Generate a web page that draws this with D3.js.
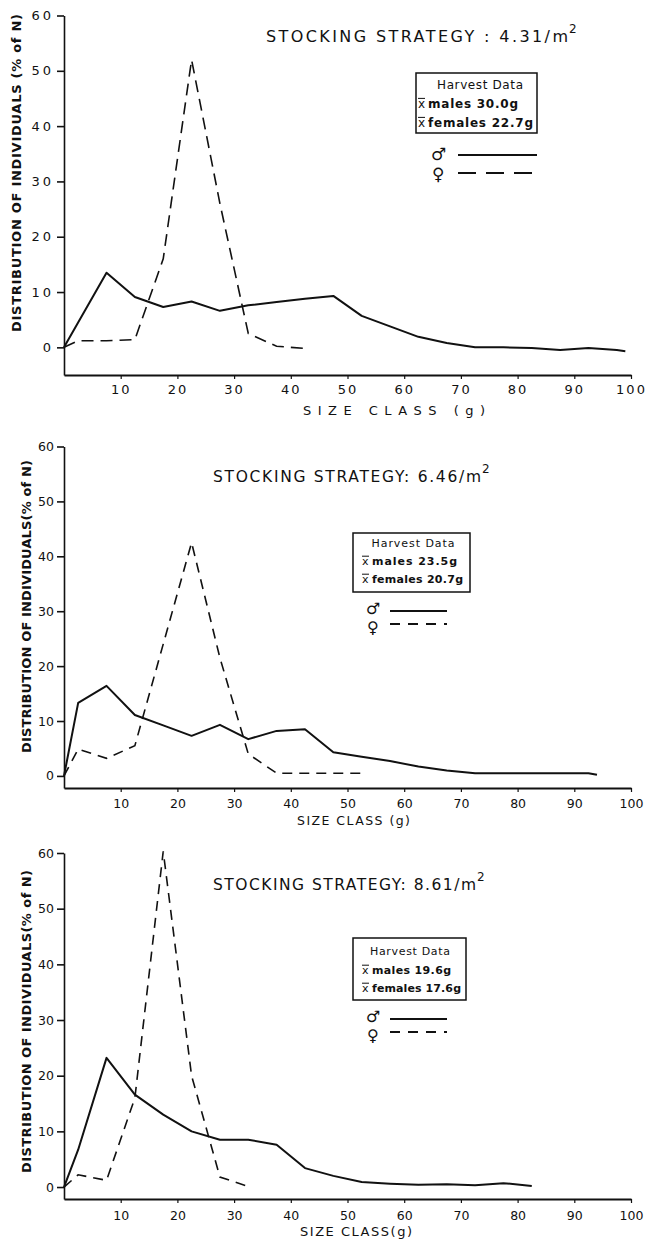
<!DOCTYPE html>
<html>
<head>
<meta charset="utf-8">
<script src="https://cdn.jsdelivr.net/npm/d3@7"></script>
<style>
  body { margin: 0; background: #fff; }
  svg { display: block; }
  text { font-family: "DejaVu Sans", sans-serif; fill: #111; }
</style>
</head>
<body>
<svg id="chart" width="647" height="1240"></svg>
<script>
// ---------------- DATA ----------------
const xTickValues = [10, 20, 30, 40, 50, 60, 70, 80, 90, 100];
const yTickValues = [0, 10, 20, 30, 40, 50, 60];
const stockingDensities = ["4.31", "6.46", "8.61"];
const harvestMaleMeans = ["30.0g", "23.5g", "19.6g"];
const harvestFemaleMeans = ["22.7g", "20.7g", "17.6g"];

// Panel 1 : 4.31 / m2
const p1MaleSize = [0, 7.5, 12.5, 17.5, 22.5, 27.5, 32.5, 37.5, 42.5, 47.5, 52.5, 57.5, 62.5, 67.5, 72.5, 77.5, 82.5, 87.5, 92.5, 97.5, 99];
const p1MalePct  = [0, 13.5, 9.1, 7.3, 8.3, 6.6, 7.6, 8.2, 8.8, 9.3, 5.7, 3.8, 1.9, 0.8, 0.0, 0.0, -0.1, -0.5, -0.1, -0.5, -0.7];
const p1FemaleSize = [0, 2.5, 7.5, 12.5, 17.5, 22.5, 27.5, 32.5, 37.5, 42.5];
const p1FemalePct  = [0, 1.2, 1.2, 1.4, 16, 52, 26, 2.5, 0.2, -0.2];

// Panel 2 : 6.46 / m2
const p2MaleSize = [0, 2.5, 7.5, 12.5, 17.5, 22.5, 27.5, 32.5, 37.5, 42.5, 47.5, 52.5, 57.5, 62.5, 67.5, 72.5, 77.5, 82.5, 87.5, 92.5, 94];
const p2MalePct  = [0, 13.3, 16.4, 11.1, 9.2, 7.3, 9.3, 6.7, 8.2, 8.5, 4.3, 3.5, 2.7, 1.7, 1.0, 0.5, 0.5, 0.5, 0.5, 0.5, 0.2];
const p2FemaleSize = [0, 2.5, 7.5, 12.5, 17.5, 22.5, 27.5, 32.5, 37.5, 42.5, 47.5, 52.5];
const p2FemalePct  = [0, 4.9, 3.2, 5.5, 24, 42.5, 21.5, 4, 0.5, 0.5, 0.5, 0.5];

// Panel 3 : 8.61 / m2
const p3MaleSize = [0, 2.5, 7.5, 12.5, 17.5, 22.5, 27.5, 32.5, 37.5, 42.5, 47.5, 52.5, 57.5, 62.5, 67.5, 72.5, 77.5, 82.5];
const p3MalePct  = [0, 6.7, 23.2, 16.6, 13.0, 10.0, 8.5, 8.5, 7.6, 3.4, 2.0, 0.9, 0.6, 0.4, 0.5, 0.3, 0.7, 0.2];
const p3FemaleSize = [0, 2.5, 7.5, 12.5, 17.5, 22.5, 27.5, 32.5];
const p3FemalePct  = [0, 2.2, 1.2, 16, 60.3, 20, 1.8, 0.1];

// ---------------- LAYOUT ----------------
const panels = [
  { male: [p1MaleSize, p1MalePct], female: [p1FemaleSize, p1FemalePct], yMin: -5, yRange: [375, 15.5],
    tickBase: 19, tickFont: 13, tickSpacing: 2, yTickSpacing: 3,
    xLabel: "SIZE CLASS (g)", xLabelX: 303, xLabelY: 415, xLabelLen: 182, xLabelFont: 13,
    yLabelX: 21, yLabelC: 173, yLabelLen: 318,
    titleX: 266, titleY: 42, titleLen: 302, titleFont: 16, title: "STOCKING STRATEGY : ",
    box: { x: 416, y: 73, w: 121, h: 60 }, hdC: 480, hdY: 89, hdLen: 86, mY: 108, fY: 127, txtX: 418, mLen: 90, fLen: 105, boxFont: 12,
    symX: 431, lineX: [458, 537], femLineX: [458, 532], mLineY: 155, fLineY: 173, mSymDy: 5, fSymDy: 7,
    dash: "12,7", legDash: "18,10", symFont: 17 },
  { male: [p2MaleSize, p2MalePct], female: [p2FemaleSize, p2FemalePct], yMin: -2.2, yRange: [788, 446.5],
    tickBase: 20, tickFont: 12.5, tickSpacing: 0, yTickSpacing: 0,
    xLabel: "SIZE CLASS (g)", xLabelX: 297, xLabelY: 825, xLabelLen: 113, xLabelFont: 12.5,
    yLabelX: 31, yLabelC: 606.5, yLabelLen: 293,
    titleX: 213, titleY: 482, titleLen: 268, titleFont: 15.5, title: "STOCKING STRATEGY: ",
    box: { x: 353, y: 533, w: 117, h: 59 }, hdC: 413, hdY: 547, hdLen: 83, mY: 565, fY: 583, txtX: 362, mLen: 85, fLen: 91, boxFont: 11,
    symX: 366, lineX: [390, 447], femLineX: [390, 447], mLineY: 611, fLineY: 624, mSymDy: 3, fSymDy: 9,
    dash: "10,7", legDash: "10,8", symFont: 16 },
  { male: [p3MaleSize, p3MalePct], female: [p3FemaleSize, p3FemalePct], yMin: -2.15, yRange: [1199, 853],
    tickBase: 21, tickFont: 12.5, tickSpacing: 0, yTickSpacing: 0,
    xLabel: "SIZE CLASS(g)", xLabelX: 300, xLabelY: 1236, xLabelLen: 112, xLabelFont: 13,
    yLabelX: 31, yLabelC: 1021.5, yLabelLen: 303,
    titleX: 213, titleY: 890, titleLen: 263, titleFont: 15.5, title: "STOCKING STRATEGY: ",
    box: { x: 353, y: 938, w: 113, h: 62 }, hdC: 410, hdY: 955, hdLen: 80, mY: 974, fY: 992, txtX: 362, mLen: 79, fLen: 89, boxFont: 11,
    symX: 366, lineX: [390, 447], femLineX: [390, 447], mLineY: 1019, fLineY: 1032, mSymDy: 3, fSymDy: 9,
    dash: "10,7", legDash: "10,8", symFont: 16 }
];

const svg = d3.select("#chart");

panels.forEach((p, i) => {
  const g = svg.append("g");
  const x = d3.scaleLinear().domain([0, 100]).range([64, 631]);
  const y = d3.scaleLinear().domain([p.yMin, 60]).range(p.yRange);

  // y axis
  const ya = g.append("g").attr("transform", `translate(${x(0)},0)`)
    .call(d3.axisLeft(y).tickValues(yTickValues).tickSize(7).tickSizeOuter(0).tickPadding(3));
  ya.attr("font-family", null).attr("font-size", null);
  ya.select(".domain").attr("stroke", "#111").attr("stroke-width", 1.6);
  ya.selectAll(".tick line").attr("stroke", "#111").attr("stroke-width", 1.6);
  ya.selectAll(".tick text").attr("font-size", p.tickFont).attr("letter-spacing", p.yTickSpacing)
    .attr("fill", "#111");

  // x axis
  const xa = g.append("g").attr("transform", `translate(0,${y(p.yMin)})`)
    .call(d3.axisBottom(x).tickValues(xTickValues).tickSize(4).tickSizeOuter(0));
  xa.attr("font-family", null).attr("font-size", null);
  xa.select(".domain").attr("stroke", "#111").attr("stroke-width", 1.8);
  xa.selectAll(".tick line").attr("stroke", "#111").attr("stroke-width", 1.2);
  xa.selectAll(".tick text").attr("font-size", p.tickFont).attr("letter-spacing", p.tickSpacing)
    .attr("fill", "#111").attr("dy", null).attr("y", p.tickBase);

  // lines
  const line = d3.line().x(d => x(d[0])).y(d => y(d[1]));
  const maleData = p.male[0].map((s, k) => [s, p.male[1][k]]);
  const femaleData = p.female[0].map((s, k) => [s, p.female[1][k]]);
  g.append("path").datum(femaleData).attr("d", line).attr("fill", "none")
    .attr("stroke", "#111").attr("stroke-width", 1.6).attr("stroke-dasharray", p.dash);
  g.append("path").datum(maleData).attr("d", line).attr("fill", "none")
    .attr("stroke", "#111").attr("stroke-width", 2).attr("stroke-linejoin", "round");

  // axis titles
  g.append("text").attr("x", p.xLabelX).attr("y", p.xLabelY).attr("font-size", p.xLabelFont)
    .attr("textLength", p.xLabelLen).attr("lengthAdjust", "spacing").text(p.xLabel);
  g.append("text").attr("transform", `translate(${p.yLabelX},${p.yLabelC}) rotate(-90)`)
    .attr("text-anchor", "middle").attr("font-size", 13).attr("font-weight", "bold")
    .attr("textLength", p.yLabelLen).attr("lengthAdjust", "spacing")
    .text(i === 0 ? "DISTRIBUTION OF INDIVIDUALS (% of N)" : "DISTRIBUTION OF INDIVIDUALS(% of N)");

  // chart title
  g.append("text").attr("x", p.titleX).attr("y", p.titleY).attr("font-size", p.titleFont)
    .attr("textLength", p.titleLen).attr("lengthAdjust", "spacing")
    .text(p.title + stockingDensities[i] + "/m");
  g.append("text").attr("x", p.titleX + p.titleLen + 1).attr("y", p.titleY - 9).attr("font-size", 12)
    .text("2");

  // harvest data box
  const b = p.box;
  g.append("rect").attr("x", b.x).attr("y", b.y).attr("width", b.w).attr("height", b.h)
    .attr("fill", "none").attr("stroke", "#111").attr("stroke-width", 1.5);
  g.append("text").attr("x", p.hdC).attr("y", p.hdY).attr("text-anchor", "middle")
    .attr("font-size", p.boxFont).attr("textLength", p.hdLen).attr("lengthAdjust", "spacing")
    .text("Harvest Data");
  [[p.mY, "males ", harvestMaleMeans[i], p.mLen], [p.fY, "females ", harvestFemaleMeans[i], p.fLen]].forEach(r => {
    g.append("text").attr("x", p.txtX).attr("y", r[0]).attr("font-size", p.boxFont).text("x");
    g.append("line").attr("x1", p.txtX).attr("x2", p.txtX + 7)
      .attr("y1", r[0] - p.boxFont * 0.8).attr("y2", r[0] - p.boxFont * 0.8)
      .attr("stroke", "#111").attr("stroke-width", 1);
    g.append("text").attr("x", p.txtX + 10).attr("y", r[0]).attr("font-size", p.boxFont)
      .attr("font-weight", "bold").attr("textLength", r[3]).attr("lengthAdjust", "spacing")
      .text(r[1] + r[2]);
  });

  // sex legend
  g.append("text").attr("font-size", p.symFont).attr("x", p.symX).attr("y", p.mLineY + p.mSymDy).text("\u2642");
  g.append("text").attr("font-size", p.symFont).attr("x", p.symX + 1).attr("y", p.fLineY + p.fSymDy).text("\u2640");
  g.append("line").attr("x1", p.lineX[0]).attr("x2", p.lineX[1]).attr("y1", p.mLineY).attr("y2", p.mLineY)
    .attr("stroke", "#111").attr("stroke-width", 2);
  g.append("line").attr("x1", p.femLineX[0]).attr("x2", p.femLineX[1]).attr("y1", p.fLineY).attr("y2", p.fLineY)
    .attr("stroke", "#111").attr("stroke-width", 2).attr("stroke-dasharray", p.legDash);
});
</script>
</body>
</html>
